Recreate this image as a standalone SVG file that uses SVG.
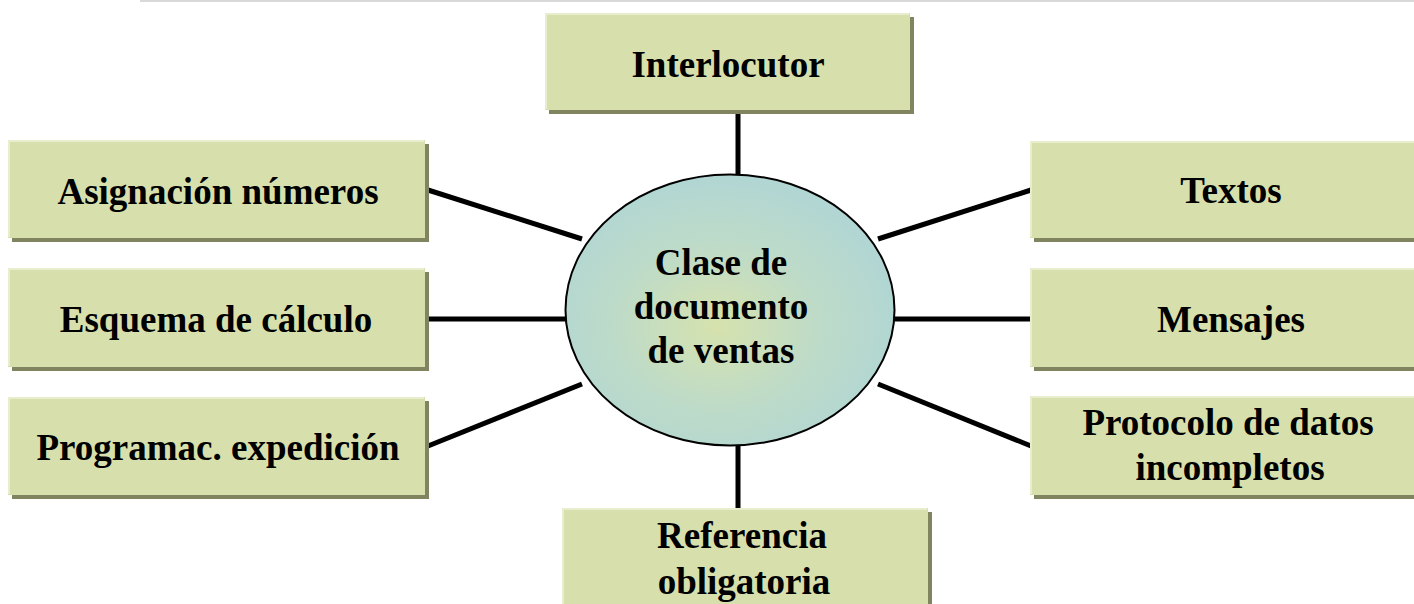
<svg xmlns="http://www.w3.org/2000/svg" width="1414" height="604" viewBox="0 0 1414 604">
<defs>
<radialGradient id="eg" cx="0.46" cy="0.56" r="0.55">
<stop offset="0" stop-color="#d6e2ad"/>
<stop offset="0.55" stop-color="#bedbc8"/>
<stop offset="1" stop-color="#b1d6d3"/>
</radialGradient>
<style>
.sh{fill:#80845f}
.bx{fill:#d7e0ad}
.hl{fill:none;stroke:#e8eecd;stroke-width:2}
.t{font-family:"Liberation Serif","Times New Roman",serif;font-weight:bold;font-size:37px;fill:#000;text-anchor:middle}
.c{stroke:#000;stroke-width:5;fill:none}
</style>
</defs>
<rect width="1414" height="604" fill="#fff"/>
<rect x="140" y="0" width="1274" height="2" fill="#d9d9d9"/>
<g id="connectors">
<line class="c" x1="738" y1="110" x2="738" y2="175"/>
<line class="c" x1="738" y1="444" x2="738" y2="509"/>
<line class="c" x1="428" y1="190" x2="582" y2="239"/>
<line class="c" x1="428" y1="319" x2="566" y2="319"/>
<line class="c" x1="428" y1="446" x2="582" y2="384"/>
<line class="c" x1="878" y1="239" x2="1031" y2="190"/>
<line class="c" x1="893" y1="319" x2="1031" y2="319"/>
<line class="c" x1="878" y1="384" x2="1031" y2="446"/>
</g>
<g id="center">
<ellipse cx="730" cy="310" rx="164.5" ry="135.5" fill="url(#eg)" stroke="#000" stroke-width="2"/>
<text class="t" x="721" y="275">Clase de</text>
<text class="t" x="721" y="319">documento</text>
<text class="t" x="721" y="363">de ventas</text>
</g>
<g id="interlocutor">
<rect class="sh" x="549" y="17" width="365" height="97"/>
<rect class="bx" x="545" y="13" width="365" height="97"/>
<path class="hl" d="M546 109V14H909"/>
<text class="t" x="728" y="77">Interlocutor</text>
</g>
<g id="asignacion">
<rect class="sh" x="12" y="144" width="417" height="98"/>
<rect class="bx" x="8" y="140" width="417" height="98"/>
<path class="hl" d="M9 237V141H424"/>
<text class="t" x="218" y="204">Asignación números</text>
</g>
<g id="esquema">
<rect class="sh" x="12" y="272" width="417" height="99"/>
<rect class="bx" x="8" y="268" width="417" height="99"/>
<path class="hl" d="M9 366V269H424"/>
<text class="t" x="216" y="332">Esquema de cálculo</text>
</g>
<g id="programac">
<rect class="sh" x="12" y="401" width="417" height="98"/>
<rect class="bx" x="8" y="397" width="417" height="98"/>
<path class="hl" d="M9 494V398H424"/>
<text class="t" x="218" y="460">Programac. expedición</text>
</g>
<g id="textos">
<rect class="sh" x="1034" y="145" width="400" height="97"/>
<rect class="bx" x="1030" y="141" width="400" height="97"/>
<path class="hl" d="M1031 237V142H1430"/>
<text class="t" x="1231" y="203">Textos</text>
</g>
<g id="mensajes">
<rect class="sh" x="1034" y="272" width="400" height="99"/>
<rect class="bx" x="1030" y="268" width="400" height="99"/>
<path class="hl" d="M1031 366V269H1430"/>
<text class="t" x="1231" y="332">Mensajes</text>
</g>
<g id="protocolo">
<rect class="sh" x="1034" y="400" width="400" height="99"/>
<rect class="bx" x="1030" y="396" width="400" height="99"/>
<path class="hl" d="M1031 494V397H1430"/>
<text class="t" x="1228" y="435">Protocolo de datos</text>
<text class="t" x="1230" y="480">incompletos</text>
</g>
<g id="referencia">
<rect class="sh" x="566" y="512" width="366" height="100"/>
<rect class="bx" x="562" y="508" width="366" height="100"/>
<path class="hl" d="M563 608V509H927"/>
<text class="t" x="742" y="548">Referencia</text>
<text class="t" x="744" y="594">obligatoria</text>
</g>
</svg>
